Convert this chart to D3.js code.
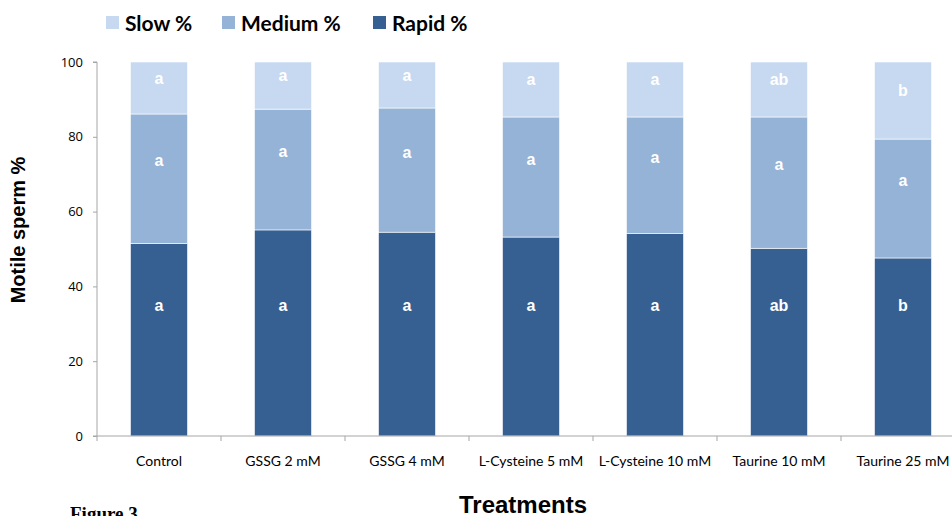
<!DOCTYPE html>
<html>
<head>
<meta charset="utf-8">
<script src="https://cdn.jsdelivr.net/npm/d3@7"></script>
<style>
  body { margin: 0; background: #fff; }
  svg { display: block; }
</style>
</head>
<body>
<svg width="952" height="516"></svg>
<script>
// data
var treatments = ['Control', 'GSSG 2 mM', 'GSSG 4 mM', 'L-Cysteine 5 mM', 'L-Cysteine 10 mM', 'Taurine 10 mM', 'Taurine 25 mM'];
var rapid  = [51.5, 55.1, 54.5, 53.2, 54.1, 50.2, 47.6];
var medium = [34.6, 32.3, 33.2, 32.1, 31.2, 35.1, 31.8];
var slow   = [13.9, 12.6, 12.3, 14.7, 14.7, 14.7, 20.6];
var rapidLetters  = ['a', 'a', 'a', 'a', 'a', 'ab', 'b'];
var mediumLetters = ['a', 'a', 'a', 'a', 'a', 'a', 'a'];
var slowLetters   = ['a', 'a', 'a', 'a', 'a', 'ab', 'b'];
var yTicks = [0, 20, 40, 60, 80, 100];

var series = [
  { key: 'Rapid %', values: rapid, letters: rapidLetters, color: '#366092' },
  { key: 'Medium %', values: medium, letters: mediumLetters, color: '#95b3d7' },
  { key: 'Slow %', values: slow, letters: slowLetters, color: '#c6d9f1' }
];

var svg = d3.select('svg');
var plotLeft = 97, plotTop = 62, plotBottom = 436, step = 124;

var x = d3.scaleBand()
    .domain(treatments)
    .range([plotLeft, plotLeft + step * treatments.length])
    .paddingInner(0.54)
    .paddingOuter(0.27);
var y = d3.scaleLinear().domain([0, 100]).range([plotBottom, plotTop]);

// build stacked rows
var rows = treatments.map(function(t, i) {
  return { name: t, rapid: rapid[i], medium: medium[i], slow: slow[i] };
});
var stack = d3.stack().keys(['rapid', 'medium', 'slow'])(rows);

var g = svg.append('g');

stack.forEach(function(layer, li) {
  var s = series[li];
  g.selectAll('.bar-' + li)
    .data(layer)
    .enter().append('rect')
      .attr('x', function(d) { return x(d.data.name); })
      .attr('y', function(d) { return y(d[1]); })
      .attr('width', x.bandwidth())
      .attr('height', function(d) { return y(d[0]) - y(d[1]); })
      .attr('fill', s.color)
      .attr('stroke', '#fff')
      .attr('stroke-width', 0.6);

  // significance letters; rapid sits at a fixed level, the rest a bit above segment middle
  g.selectAll('.lab-' + li)
    .data(layer)
    .enter().append('text')
      .attr('x', function(d) { return x(d.data.name) + x.bandwidth() / 2; })
      .attr('y', function(d, i) {
        if (li === 0) return y(35);
        var mid = (y(d[0]) + y(d[1])) / 2;
        return mid - (li === 1 ? 18 : 10);
      })
      .attr('dy', '0.35em')
      .attr('text-anchor', 'middle')
      .attr('fill', '#fff')
      .style('font', 'bold 16px "Liberation Sans", Arial, sans-serif')
      .text(function(d, i) { return s.letters[i]; });
});

// y axis
var yAxis = svg.append('g')
    .attr('transform', 'translate(' + plotLeft + ',0)')
    .call(d3.axisLeft(y).tickValues(yTicks).tickSize(4).tickPadding(10));
yAxis.select('.domain').attr('stroke', '#a6a6a6').attr('d', 'M-4,' + plotTop + 'H0V' + plotBottom + 'H-4');
yAxis.selectAll('.tick line').attr('stroke', '#a6a6a6');
yAxis.selectAll('.tick text')
    .style('font', '13px "Open Sans", "DejaVu Sans", sans-serif')
    .attr('fill', '#000');

// x axis
var xAxis = svg.append('g')
    .attr('transform', 'translate(0,' + plotBottom + ')')
    .call(d3.axisBottom(x).tickSize(0).tickPadding(20));
xAxis.select('.domain').attr('stroke', '#a6a6a6').attr('d', 'M' + plotLeft + ',0H952');
xAxis.selectAll('.tick text')
    .style('font', '14px Lato, "Open Sans", sans-serif')
    .attr('fill', '#000');
xAxis.selectAll('.sep')
    .data(d3.range(treatments.length))
    .enter().append('line')
      .attr('x1', function(i) { return plotLeft + i * step; })
      .attr('x2', function(i) { return plotLeft + i * step; })
      .attr('y1', 0).attr('y2', 5)
      .attr('stroke', '#a6a6a6');

// legend
var legendItems = [
  { key: 'Slow %', color: '#c6d9f1', x: 106 },
  { key: 'Medium %', color: '#95b3d7', x: 222 },
  { key: 'Rapid %', color: '#366092', x: 373 }
];
var lg = svg.append('g').selectAll('g').data(legendItems).enter().append('g')
    .attr('transform', function(d) { return 'translate(' + d.x + ',16)'; });
lg.append('rect').attr('width', 13).attr('height', 13).attr('fill', function(d) { return d.color; });
lg.append('text')
    .attr('x', 19).attr('y', 7).attr('dy', '0.36em')
    .style('font', 'bold 21px Lato, "Open Sans", sans-serif')
    .text(function(d) { return d.key; });

// axis titles
svg.append('text')
    .attr('transform', 'translate(25,230) rotate(-90)')
    .attr('text-anchor', 'middle')
    .style('font', 'bold 20px "Liberation Sans", Arial, sans-serif')
    .text('Motile sperm %');

svg.append('text')
    .attr('x', 523).attr('y', 513)
    .attr('text-anchor', 'middle')
    .style('font', 'bold 24px "Liberation Sans", Arial, sans-serif')
    .text('Treatments');

svg.append('text')
    .attr('x', 70).attr('y', 520)
    .style('font', 'bold 19px "Liberation Serif", "Times New Roman", serif')
    .text('Figure 3');
</script>
</body>
</html>
